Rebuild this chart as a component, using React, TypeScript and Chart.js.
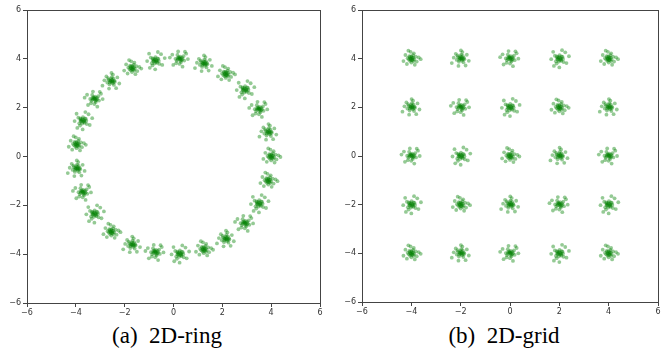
import React, { useEffect, useRef } from "react";
import { Chart, registerables } from "chart.js";

Chart.register(...registerables);

// Cluster centres
const ringCenters: number[][] = [
  [4.0, 0.0], [3.88, 0.99], [3.5, 1.93], [2.92, 2.74], [2.14, 3.38],
  [1.24, 3.8], [0.25, 3.99], [-0.75, 3.93], [-1.7, 3.62], [-2.55, 3.08],
  [-3.24, 2.35], [-3.72, 1.47], [-3.97, 0.5], [-3.97, -0.5], [-3.72, -1.47],
  [-3.24, -2.35], [-2.55, -3.08], [-1.7, -3.62], [-0.75, -3.93], [0.25, -3.99],
  [1.24, -3.8], [2.14, -3.38], [2.92, -2.74], [3.5, -1.93], [3.88, -0.99],
];

const gridCenters: number[][] = [
  [-4, 4], [-2, 4], [0, 4], [2, 4], [4, 4],
  [-4, 2], [-2, 2], [0, 2], [2, 2], [4, 2],
  [-4, 0], [-2, 0], [0, 0], [2, 0], [4, 0],
  [-4, -2], [-2, -2], [0, -2], [2, -2], [4, -2],
  [-4, -4], [-2, -4], [0, -4], [2, -4], [4, -4],
];

// Hand-read scatter of samples around each centre
const jitterA: number[][] = [
  [0.02, 0.05], [-0.08, 0.1], [0.12, -0.03], [-0.05, -0.09], [0.07, 0.14], [-0.15, 0.02],
  [0.18, 0.08], [0.0, -0.16], [-0.1, -0.04], [0.05, -0.05], [0.22, -0.12], [-0.24, 0.15],
  [0.1, 0.22], [-0.03, 0.28], [0.3, 0.05], [-0.32, -0.1], [0.14, -0.25], [-0.18, -0.22],
  [0.04, 0.01], [-0.02, -0.02], [0.08, 0.04], [-0.06, 0.06], [0.38, -0.02], [-0.12, 0.33],
  [0.01, -0.06], [-0.04, 0.0], [0.09, -0.1], [0.0, 0.09],
];
const jitterB: number[][] = [
  [-0.03, 0.02], [0.06, -0.08], [-0.11, 0.07], [0.09, 0.11], [-0.07, -0.13], [0.15, -0.02],
  [-0.16, -0.05], [0.02, 0.17], [0.11, -0.15], [-0.01, 0.0], [0.04, 0.06], [-0.2, 0.2],
  [0.25, 0.16], [0.2, -0.28], [-0.28, 0.04], [-0.09, -0.3], [0.33, -0.09], [0.01, 0.34],
  [-0.05, 0.03], [0.03, -0.03], [-0.36, -0.18], [0.13, 0.03], [-0.13, 0.13], [0.07, 0.27],
  [0.05, 0.01], [-0.06, -0.05], [0.0, 0.1], [0.1, -0.02],
];
const jitterC: number[][] = [
  [0.01, -0.01], [-0.04, 0.08], [0.1, 0.06], [-0.12, -0.07], [0.06, -0.12], [0.16, 0.12],
  [-0.09, 0.17], [-0.17, 0.01], [0.19, -0.06], [0.0, -0.2], [-0.02, 0.03], [0.05, 0.02],
  [0.27, 0.22], [-0.26, -0.24], [0.12, -0.31], [-0.3, 0.18], [0.34, 0.0], [-0.06, 0.31],
  [0.08, -0.04], [-0.07, -0.02], [0.22, 0.3], [-0.4, 0.06], [0.03, 0.1], [-0.14, -0.17],
  [0.04, -0.07], [-0.08, 0.04], [0.12, 0.0], [-0.01, 0.05],
];
const jitterD: number[][] = [
  [0.03, 0.03], [-0.06, -0.04], [0.08, -0.09], [-0.1, 0.09], [0.13, 0.07], [-0.14, -0.11],
  [0.01, 0.14], [0.17, -0.14], [-0.18, 0.12], [-0.02, -0.12], [0.06, 0.0], [-0.04, 0.01],
  [0.29, -0.18], [-0.22, -0.3], [0.24, 0.26], [-0.33, -0.02], [0.0, -0.36], [0.11, 0.35],
  [-0.08, 0.05], [0.09, 0.09], [0.39, 0.1], [-0.25, 0.28], [0.15, -0.01], [-0.11, -0.2],
  [-0.02, 0.07], [0.07, -0.04], [-0.09, -0.01], [0.02, -0.05],
];
const jitterSets = [jitterA, jitterB, jitterC, jitterD];

const AXIS_MIN = -6;
const AXIS_MAX = 6;
const AXIS_STEP = 2;

function samples(centers: number[][]) {
  const pts: { x: number; y: number }[] = [];
  centers.forEach((c, i) => {
    const j = jitterSets[i % jitterSets.length];
    j.forEach((o) => pts.push({ x: c[0] + o[0], y: c[1] + o[1] }));
  });
  return pts;
}

const boxPlugin = {
  id: "box",
  afterDraw(chart: any) {
    const { ctx, chartArea } = chart;
    ctx.save();
    ctx.strokeStyle = "#444";
    ctx.lineWidth = 1;
    ctx.strokeRect(
      Math.round(chartArea.left) + 0.5,
      Math.round(chartArea.top) + 0.5,
      Math.round(chartArea.right - chartArea.left),
      Math.round(chartArea.bottom - chartArea.top)
    );
    ctx.restore();
  },
};

type PanelProps = {
  centers: number[][];
  left: number;
  width: number;
  yAxisW: number;
  padRight: number;
  padTop: number;
  xAxisH: number;
};

function Panel({ centers, left, width, yAxisW, padRight, padTop, xAxisH }: PanelProps) {
  const ref = useRef<HTMLCanvasElement>(null);
  useEffect(() => {
    if (!ref.current) return;
    const tickFont = { family: "DejaVu Sans", size: 8 };
    const fmt = (v: any) => String(v).replace("-", "\u2212");
    const chart = new Chart(ref.current, {
      type: "scatter",
      data: {
        datasets: [
          {
            data: samples(centers),
            backgroundColor: "rgba(0,128,0,0.42)",
            borderWidth: 0,
            pointRadius: 1.9,
          },
        ],
      },
      options: {
        animation: false,
        responsive: false,
        maintainAspectRatio: false,
        layout: { padding: { left: 0, right: padRight, top: padTop, bottom: 0 } },
        plugins: { legend: { display: false }, tooltip: { enabled: false } },
        scales: {
          x: {
            type: "linear",
            min: AXIS_MIN,
            max: AXIS_MAX,
            ticks: { stepSize: AXIS_STEP, font: tickFont, color: "#333", callback: fmt, maxRotation: 0, padding: 1 },
            grid: { drawOnChartArea: false, drawTicks: true, tickLength: 4, color: "#444" },
            border: { display: false },
            afterFit: (s: any) => {
              s.height = xAxisH;
            },
          },
          y: {
            type: "linear",
            min: AXIS_MIN,
            max: AXIS_MAX,
            ticks: { stepSize: AXIS_STEP, font: tickFont, color: "#333", callback: fmt, padding: 2 },
            grid: { drawOnChartArea: false, drawTicks: true, tickLength: 4, color: "#444" },
            border: { display: false },
            afterFit: (s: any) => {
              s.width = yAxisW;
            },
          },
        },
      },
      plugins: [boxPlugin],
    } as any);
    return () => chart.destroy();
  }, []);
  return (
    <canvas
      ref={ref}
      width={width}
      height={320}
      style={{ position: "absolute", left, top: 0, width, height: 320 }}
    />
  );
}

const captionStyle: React.CSSProperties = {
  position: "absolute",
  top: 323,
  width: 200,
  textAlign: "center",
  fontFamily: "'Liberation Serif', 'DejaVu Serif', serif",
  fontSize: 23,
  lineHeight: "26px",
  color: "#000",
  whiteSpace: "pre",
};

export default function App() {
  return (
    <div style={{ position: "fixed", left: 0, top: 0, width: 662, height: 356, background: "#fff", overflow: "hidden" }}>
      <Panel centers={ringCenters} left={0} width={330} yAxisW={27} padRight={10} padTop={10} xAxisH={17} />
      <Panel centers={gridCenters} left={330} width={332} yAxisW={32} padRight={4} padTop={10} xAxisH={18} />
      <div style={{ ...captionStyle, left: 67 }}>{"(a)\u00a0\u00a02D-ring"}</div>
      <div style={{ ...captionStyle, left: 404 }}>{"(b)\u00a0\u00a02D-grid"}</div>
    </div>
  );
}
